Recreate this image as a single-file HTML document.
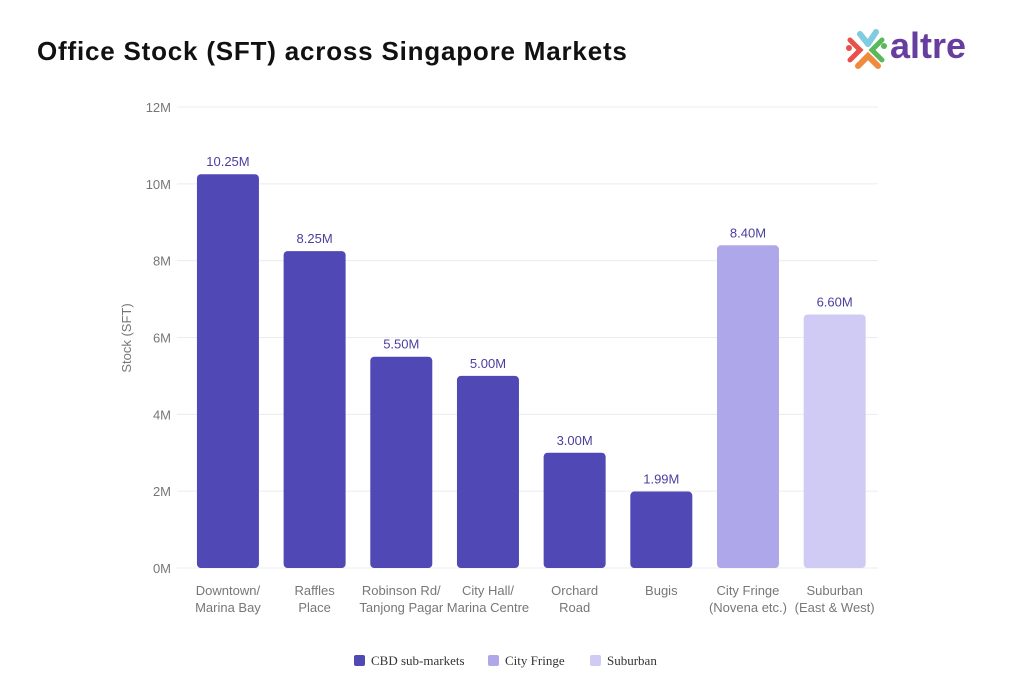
<!DOCTYPE html>
<html><head><meta charset="utf-8"><style>
html,body{margin:0;padding:0;background:#fff;}
body{width:1024px;height:697px;overflow:hidden;position:relative;font-family:"Liberation Sans",sans-serif;}
#title{position:absolute;left:37px;top:36px;font-size:26px;font-weight:bold;color:#111;letter-spacing:0.8px;}
#logo{position:absolute;left:842px;top:22px;}
</style></head><body>
<div id="title">Office Stock (SFT) across Singapore Markets</div>
<svg id="logo" width="160" height="50">
 <g>
  <path d="M18 12 L26 22" stroke="#7fcbe0" stroke-width="6" stroke-linecap="round"/>
  <path d="M34 10 L26 22" stroke="#7fcbe0" stroke-width="6" stroke-linecap="round"/>
  <path d="M8 18 L18 28 L8 38" stroke="#e8504a" stroke-width="5" fill="none" stroke-linecap="round"/>
  <path d="M40 18 L30 28 L40 38" stroke="#5bb85a" stroke-width="5" fill="none" stroke-linecap="round"/>
  <path d="M16 44 L26 34 L36 44" stroke="#f08a3c" stroke-width="6" fill="none" stroke-linecap="round"/>
  <circle cx="7" cy="26" r="3" fill="#e8504a"/><circle cx="42" cy="24" r="3" fill="#5bb85a"/>
 </g>
 <text x="48" y="36" font-family="Liberation Sans, sans-serif" font-weight="bold" font-size="36" fill="#673ea0">altre</text>
</svg>
<svg id="chart" width="1024" height="697" style="position:absolute;left:0;top:0"></svg>
<script>
const categories=[["Downtown/","Marina Bay"],["Raffles","Place"],["Robinson Rd/","Tanjong Pagar"],["City Hall/","Marina Centre"],["Orchard","Road"],["Bugis",""],["City Fringe","(Novena etc.)"],["Suburban","(East & West)"]];
const values=[10.25,8.25,5.5,5.0,3.0,1.99,8.4,6.6];
const groups=[0,0,0,0,0,0,1,2];
const valueLabels=["10.25M","8.25M","5.50M","5.00M","3.00M","1.99M","8.40M","6.60M"];
const ticks=[0,2,4,6,8,10,12];
const tickLabels=["0M","2M","4M","6M","8M","10M","12M"];
const legendNames=["CBD sub-markets","City Fringe","Suburban"];
const colors=["#5048b5","#aea7ea","#cfcbf5"];
const NS="http://www.w3.org/2000/svg";
const svg=document.getElementById('chart');
const x0=184.6,x1=878,y0=568,y1=107,bw=(x1-x0)/categories.length,barW=62;
const y=v=>y0-(v/12)*(y0-y1);
const xc=i=>x0+bw*(i+0.5);
function mk(t,a){const e=document.createElementNS(NS,t);for(const k in a)e.setAttribute(k,a[k]);svg.appendChild(e);return e;}
ticks.forEach((t,i)=>{
 const g=mk('line',{x1:177,x2:878,y1:y(t),y2:y(t),stroke:'#ececec','stroke-width':1});
 
 
 const l=mk('text',{x:171,y:y(t)+5,'text-anchor':'end','font-size':13,fill:'#777','font-family':'Liberation Sans, sans-serif'});
 l.textContent=tickLabels[i];
 
 
});
const yt=mk('text',{x:0,y:0,transform:'translate(131,338) rotate(-90)','text-anchor':'middle','font-size':13,fill:'#777','font-family':'Liberation Sans, sans-serif'});
yt.textContent='Stock (SFT)';


values.forEach((v,i)=>{
 const b=mk('rect',{x:xc(i)-barW/2,y:y(v),width:barW,height:y0-y(v),rx:4,fill:colors[groups[i]]});
 
 
 const t=mk('text',{x:xc(i),y:y(v)-8,'text-anchor':'middle','font-size':13,fill:'#4a3f9e','font-family':'Liberation Sans, sans-serif'});
 t.textContent=valueLabels[i];
 
 
 categories[i].forEach((s,j)=>{
  const c=mk('text',{x:xc(i),y:595+j*17,'text-anchor':'middle','font-size':13,fill:'#777','font-family':'Liberation Sans, sans-serif'});
  c.textContent=s;
  
  
 });
});
const lx=[354,488,590];
legendNames.forEach((n,i)=>{
 const r=mk('rect',{x:lx[i],y:655,width:11,height:11,rx:2,fill:colors[i]});
 
 
 const t=mk('text',{x:lx[i]+17,y:665,'font-size':13,fill:'#333','font-family':'Liberation Serif, serif'});
 t.textContent=n;
 
 
});
</script>
</body></html>
